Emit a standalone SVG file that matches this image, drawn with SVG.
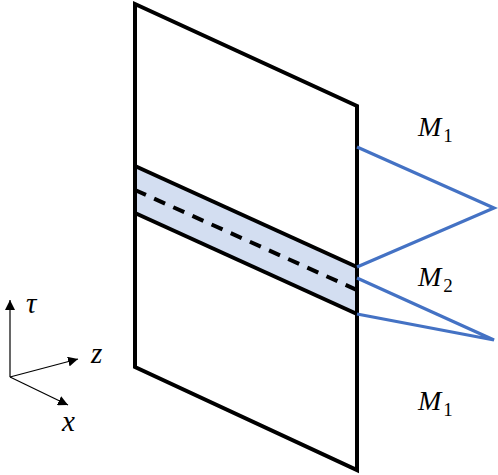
<svg xmlns="http://www.w3.org/2000/svg" width="498" height="475" viewBox="0 0 498 475">
<style>
.frame{fill:none;stroke:#000;stroke-width:4;stroke-linejoin:miter}
.band{fill:#D3DEF1;stroke:none}
.edge{stroke:#000;stroke-width:4;fill:none}
.dash{stroke:#000;stroke-width:4;fill:none;stroke-dasharray:12,9}
.blue{stroke:#4472C4;stroke-width:3.2;fill:none;stroke-linejoin:miter}
.ax{stroke:#000;stroke-width:1.2;fill:none}
.lbl{font-family:"Liberation Serif",serif;font-style:italic;font-size:28px;fill:#000}
.sub{font-family:"Liberation Serif",serif;font-style:normal;font-size:19px;fill:#000}
.axl{font-family:"Liberation Serif",serif;font-style:italic;font-size:29px;fill:#000}
</style>
<defs>
<marker id="ah" viewBox="0 0 10 10" refX="10" refY="5" markerWidth="10" markerHeight="10" markerUnits="userSpaceOnUse" orient="auto">
<path d="M0,0 L10,5 L0,10 z" fill="#000"/>
</marker>
</defs>
<g id="plane">
<polygon class="band" points="135,166 357,267 357,314 135,213"/>
<polygon class="frame" points="135,4 357,106 357,470 135,367"/>
<line class="edge" x1="135" y1="166" x2="357" y2="267"/>
<line class="edge" x1="135" y1="213" x2="357" y2="314"/>
<line class="dash" x1="135" y1="190" x2="357" y2="290"/>
</g>
<g id="connectors">
<polyline class="blue" points="357,147 494,208 357,267"/>
<polyline class="blue" points="357,278 494,340 357,314"/>
</g>
<g id="labels">
<text class="lbl" x="418" y="136">M<tspan class="sub" dx="2" dy="6">1</tspan></text>
<text class="lbl" x="418" y="286">M<tspan class="sub" dx="2" dy="6">2</tspan></text>
<text class="lbl" x="418" y="410">M<tspan class="sub" dx="2" dy="6">1</tspan></text>
</g>
<g id="axes">
<line class="ax" x1="10" y1="377" x2="10" y2="300" marker-end="url(#ah)"/>
<line class="ax" x1="10" y1="377" x2="78" y2="359" marker-end="url(#ah)"/>
<line class="ax" x1="10" y1="377" x2="68" y2="405" marker-end="url(#ah)"/>
<text class="axl" x="26" y="313">τ</text>
<text class="axl" x="91" y="363">z</text>
<text class="axl" x="62" y="431">x</text>
</g>
</svg>
